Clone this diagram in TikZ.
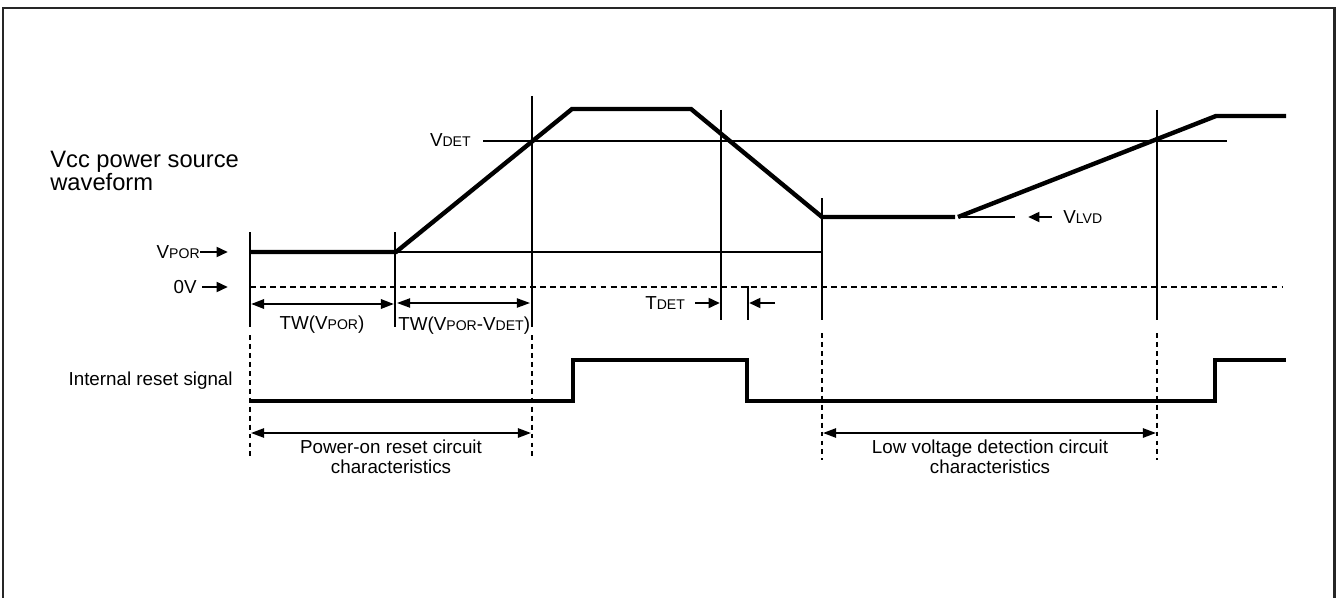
\documentclass[tikz,border=0pt]{standalone}
\usepackage{fontspec}
\setmainfont{Liberation Sans}
\usetikzlibrary{arrows.meta,positioning,calc}

\newcommand{\lowcap}[1]{{\fontsize{8pt}{8pt}\selectfont #1}}

\begin{document}
\begin{tikzpicture}[
		x=0.02cm, y=-0.02cm,
		>={Triangle[length=7.5pt,width=5.3pt]},
		lbl/.style={inner sep=0pt, font=\fontsize{10.7pt}{11.3pt}\selectfont},
		wave/.style={line width=2.5pt, line join=miter},
		guide/.style={line width=0.8pt},
		zeroline/.style={line width=0.8pt, dash pattern=on 3.4pt off 2.3pt},
		marker/.style={line width=0.8pt, dash pattern=on 2.8pt off 2.3pt},
		dimarrow/.style={<->, line width=1.1pt},
		ptarrow/.style={->, line width=1.6pt, >={Triangle[length=6.5pt,width=5.5pt]}}
		]

		\useasboundingbox (0,0) rectangle (1338,598);
		\draw[line width=1.7pt, black!85] (3,620) -- (3,8) -- (1334,8) -- (1334,620);

		% levels
		\draw[guide] (483,141) -- (1227,141);
		\draw[guide] (396,252) -- (822,252);
		\draw[zeroline] (250,287) -- (1283,287);

		% time markers
		\foreach \x/\top/\bot in {250/232/327, 395/232/327, 532/96/327, 721/110/320, 748/286/320, 822/198/320, 1157/110/320}
			\draw[guide] (\x,\top) -- (\x,\bot);
		\foreach \x/\top in {250/335, 532/335, 822/333, 1157/333}
			\draw[marker] (\x,\top) -- (\x,460);

		% Vcc waveform
		\coordinate (v0) at (250,252);
		\coordinate (v1) at (396,252);
		\coordinate (v2) at (572,109);
		\coordinate (v3) at (691,109);
		\coordinate (v4) at (822,217);
		\coordinate (v5) at (955,217);
		\coordinate (v6) at (958,217);
		\coordinate (v7) at (1216,116);
		\coordinate (v8) at (1286,116);
		\draw[wave] (v0) -- (v1) -- (v2) -- (v3) -- (v4) -- (v5);
		\draw[wave] (v6) -- (v7) -- (v8);
		\draw[guide] (v6) -- (1015,217);

		% internal reset
		\coordinate (r0) at (250,401);
		\coordinate (r1) at (573,401);
		\coordinate (r2) at (573,360);
		\coordinate (r3) at (747,360);
		\coordinate (r4) at (747,401);
		\coordinate (r5) at (1215,401);
		\coordinate (r6) at (1215,360);
		\coordinate (r7) at (1286,360);
		\draw[wave] (r0) -- (r1) -- (r2) -- (r3) -- (r4) -- (r5) -- (r6) -- (r7);

		% labels
		\node[anchor=west, align=left, inner sep=0pt, font=\fontsize{13.5pt}{13pt}\selectfont] (vcc) at (50,171) {Vcc power source\\waveform};
		\node[lbl, anchor=east] (vdet) at (471,140) {V\lowcap{DET}};
		\node[lbl, anchor=east] (vpor) at (200,252) {V\lowcap{POR}};
		\node[lbl, anchor=east] (zero) at (197,287) {0V};
		\node[lbl, anchor=west] (vlvd) at (1063,217) {V\lowcap{LVD}};
		\node[lbl, anchor=west] (tdet) at (645,303) {T\lowcap{DET}};
		\node[lbl] (twpor) at (322,325) {TW(V\lowcap{POR})};
		\node[lbl, anchor=west] (twdet) at (398,326) {TW(V\lowcap{POR}-V\lowcap{DET})};
		\node[lbl, anchor=east] (reset) at (233,381) {Internal reset signal};
		\node[lbl, align=center] (porchar) at (391,457) {Power-on reset circuit\\characteristics};
		\node[lbl, align=center] (lvdchar) at (990,457) {Low voltage detection circuit\\characteristics};

		% pointers
		\coordinate (vporTip) at (228,252);
		\coordinate (zeroTip) at (228,287);
		\coordinate (lvdTip) at (1028,217);
		\coordinate (tdetA) at (720,303);
		\coordinate (tdetB) at (749,303);
		\draw[ptarrow] (vpor.east) -- (vporTip);
		\draw[ptarrow] ([xshift=0.1cm]zero.east) -- (zeroTip);
		\draw[ptarrow] ([xshift=-0.22cm]vlvd.west) -- (lvdTip);
		\draw[ptarrow] ([xshift=0.2cm]tdet.east) -- (tdetA);
		\draw[ptarrow] ([xshift=0.52cm]tdetB) -- (tdetB);

		% spans
		\coordinate (twL) at (251,304);
		\coordinate (twM) at (394,304);
		\coordinate (twN) at (397,303);
		\coordinate (twR) at (530,303);
		\draw[dimarrow, line width=1.4pt] (twL) -- (twM);
		\draw[dimarrow, line width=0.8pt] (twN) -- (twR);
		\coordinate (porL) at (251,433);
		\coordinate (porR) at (531,433);
		\coordinate (lvdL) at (823,433);
		\coordinate (lvdR) at (1156,433);
		\draw[dimarrow] (porL) -- (porR);
		\draw[dimarrow] (lvdL) -- (lvdR);
	\end{tikzpicture}
\end{document}
